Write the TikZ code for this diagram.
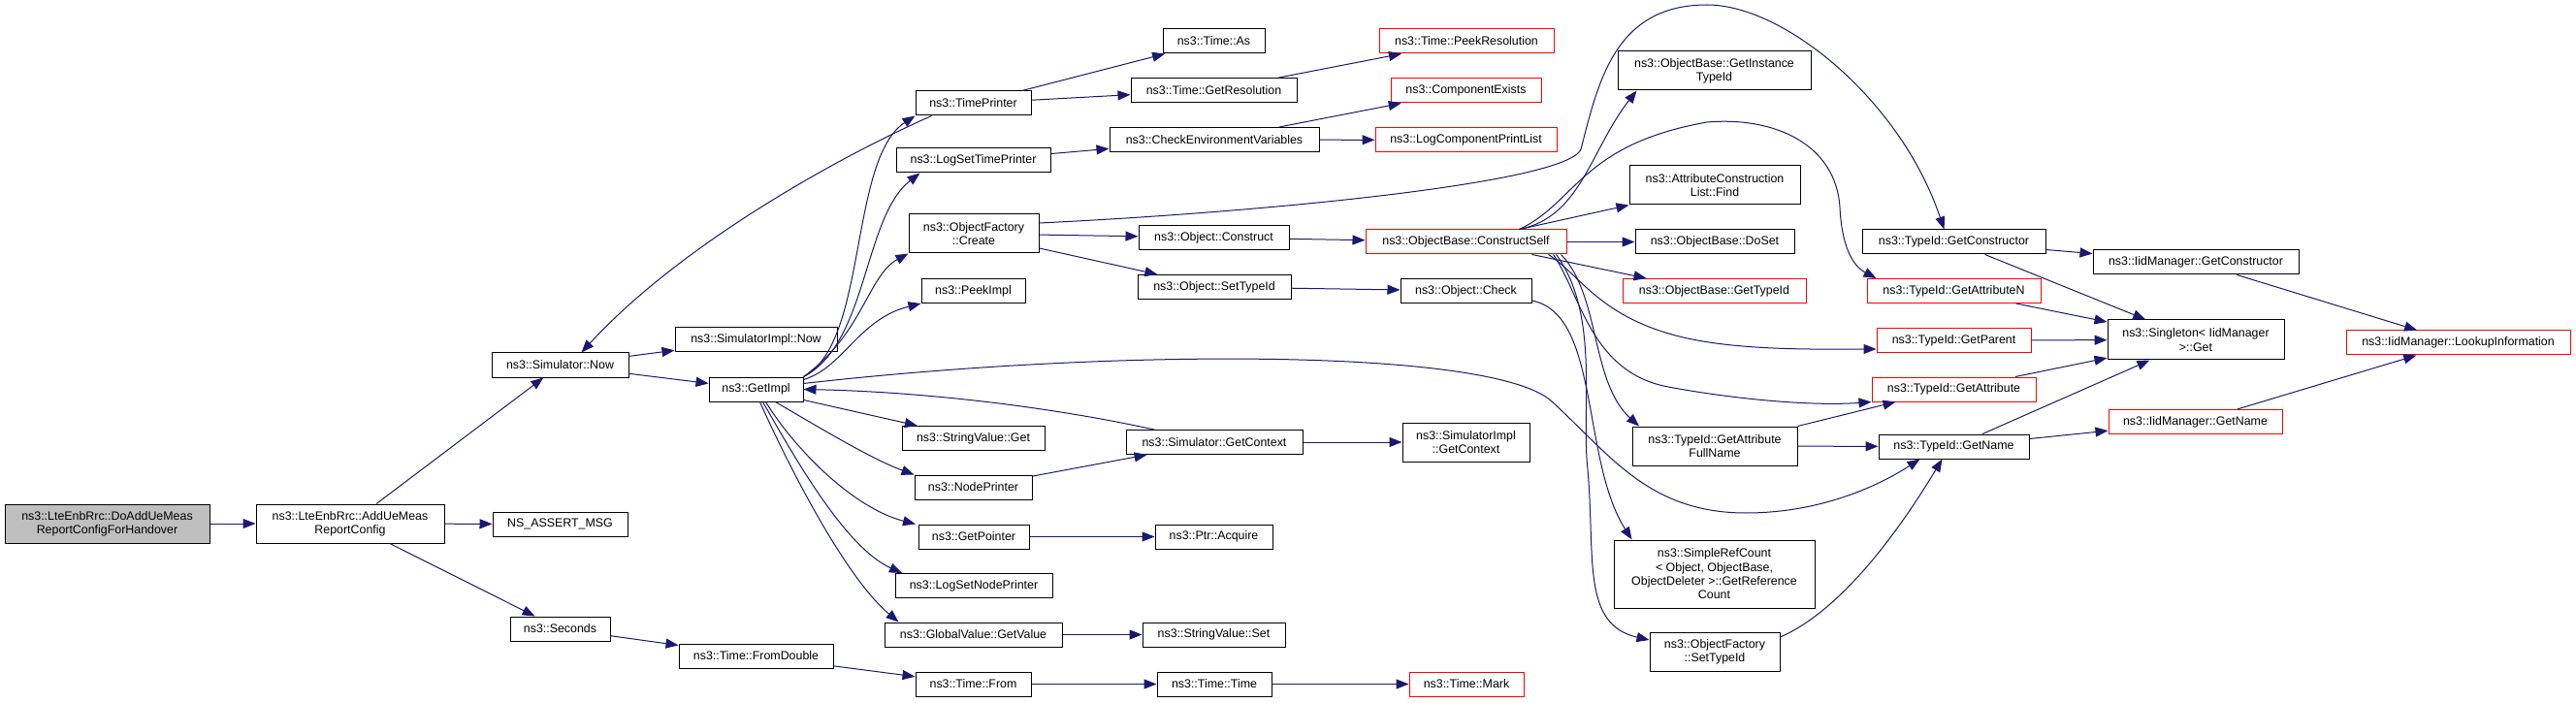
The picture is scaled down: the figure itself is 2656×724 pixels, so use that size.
\documentclass[tikz,border=0pt]{standalone}
\usepackage{fontspec}
\setmainfont{Liberation Sans}
\usetikzlibrary{arrows.meta}

\definecolor{edgeblue}{HTML}{191970}
\definecolor{rootgrey}{HTML}{BFBFBF}

\tikzset{
  fn/.style={draw=black, line width=1pt, fill=white, inner sep=1pt, align=center,
    minimum height=25pt, font=\fontsize{12.4}{14.3}\selectfont},
  fnred/.style={fn, draw=red},
  fnroot/.style={fn, fill=rootgrey},
  call/.style={edgeblue, line width=1pt, -{Triangle[length=13pt,width=10pt]}},
}

\begin{document}
\begin{tikzpicture}[x=1pt,y=1pt]
\useasboundingbox (0,0) rectangle (2656,724);

% callers
\node[fnroot, minimum width=211pt, minimum height=40pt] (root) at (110.5,184) {ns3::LteEnbRrc::DoAddUeMeas\\ReportConfigForHandover};
\node[fn, minimum width=194pt, minimum height=40pt] (addue) at (361,184) {ns3::LteEnbRrc::AddUeMeas\\ReportConfig};

% third column
\node[fn, minimum width=141pt] (simnow) at (577.5,347.5) {ns3::Simulator::Now};
\node[fn, minimum width=139pt] (nsassert) at (577.5,183.5) {NS\_ASSERT\_MSG};
\node[fn, minimum width=103pt] (seconds) at (577.5,75.5) {ns3::Seconds};

% fourth column
\node[fn, minimum width=167pt] (simimplnow) at (779.5,373.5) {ns3::SimulatorImpl::Now};
\node[fn, minimum width=97pt] (getimpl) at (779.5,322.5) {ns3::GetImpl};
\node[fn, minimum width=159pt] (fromdouble) at (779.5,47.5) {ns3::Time::FromDouble};

% fifth column
\node[fn, minimum width=119pt] (timeprinter) at (1003.5,617.5) {ns3::TimePrinter};
\node[fn, minimum width=159pt] (logsettp) at (1003.5,558.5) {ns3::LogSetTimePrinter};
\node[fn, minimum width=134pt, minimum height=40pt] (create) at (1004,483) {ns3::ObjectFactory\\::Create};
\node[fn, minimum width=107pt] (peekimpl) at (1003.5,424) {ns3::PeekImpl};
\node[fn, minimum width=147pt] (strget) at (1003.5,272) {ns3::StringValue::Get};
\node[fn, minimum width=121pt] (nodeprinter) at (1003.5,221.5) {ns3::NodePrinter};
\node[fn, minimum width=114pt] (getpointer) at (1004,170.5) {ns3::GetPointer};
\node[fn, minimum width=162pt] (logsetnp) at (1004,120) {ns3::LogSetNodePrinter};
\node[fn, minimum width=183pt] (gvgetvalue) at (1003.5,69.5) {ns3::GlobalValue::GetValue};
\node[fn, minimum width=119pt] (timefrom) at (1003.5,18.5) {ns3::Time::From};

% sixth column
\node[fn, minimum width=105pt] (timeas) at (1251.5,681.5) {ns3::Time::As};
\node[fn, minimum width=171pt] (getres) at (1251.5,631) {ns3::Time::GetResolution};
\node[fn, minimum width=216pt] (checkenv) at (1252,580) {ns3::CheckEnvironmentVariables};
\node[fn, minimum width=155pt] (construct) at (1251.5,479) {ns3::Object::Construct};
\node[fn, minimum width=158pt] (objsettid) at (1252,428) {ns3::Object::SetTypeId};
\node[fn, minimum width=182pt] (simgetctx) at (1252,268) {ns3::Simulator::GetContext};
\node[fn, minimum width=121pt] (acquire) at (1251.5,170.5) {ns3::Ptr::Acquire};
\node[fn, minimum width=147pt] (strset) at (1251.5,69.5) {ns3::StringValue::Set};
\node[fn, minimum width=118pt] (timetime) at (1252,18.5) {ns3::Time::Time};

% seventh column
\node[fnred, minimum width=180pt] (peekres) at (1512,681.5) {ns3::Time::PeekResolution};
\node[fnred, minimum width=155pt] (compexists) at (1511.5,630.5) {ns3::ComponentExists};
\node[fnred, minimum width=187pt] (logcpl) at (1511.5,579.5) {ns3::LogComponentPrintList};
\node[fnred, minimum width=207pt] (constructself) at (1511.5,474.5) {ns3::ObjectBase::ConstructSelf};
\node[fn, minimum width=135pt] (objcheck) at (1511.5,424) {ns3::Object::Check};
\node[fn, minimum width=131pt, minimum height=40pt] (simimplgetctx) at (1511.5,268) {ns3::SimulatorImpl\\::GetContext};
\node[fnred, minimum width=118pt] (timemark) at (1512,18.5) {ns3::Time::Mark};

% eighth column
\node[fn, minimum width=199pt, minimum height=40pt] (getinsttid) at (1767.5,651) {ns3::ObjectBase::GetInstance\\TypeId};
\node[fn, minimum width=176pt, minimum height=40pt] (acfind) at (1768,533) {ns3::AttributeConstruction\\List::Find};
\node[fn, minimum width=164pt] (doset) at (1768,474.5) {ns3::ObjectBase::DoSet};
\node[fnred, minimum width=189pt] (obgettid) at (1767.5,424) {ns3::ObjectBase::GetTypeId};
\node[fn, minimum width=170pt, minimum height=40pt] (getattrfull) at (1768,264) {ns3::TypeId::GetAttribute\\FullName};
\node[fn, minimum width=207pt, minimum height=70pt] (simplerc) at (1767.5,132) {ns3::SimpleRefCount\\< Object, ObjectBase,\\ObjectDeleter >::GetReference\\Count};
\node[fn, minimum width=134pt, minimum height=40pt] (ofsettid) at (1768,52) {ns3::ObjectFactory\\::SetTypeId};

% ninth column
\node[fn, minimum width=189pt] (getctor) at (2014.5,474.5) {ns3::TypeId::GetConstructor};
\node[fnred, minimum width=179pt] (getattrn) at (2014.5,424) {ns3::TypeId::GetAttributeN};
\node[fnred, minimum width=159pt] (getparent) at (2014.5,373) {ns3::TypeId::GetParent};
\node[fnred, minimum width=169pt] (getattr) at (2014.5,322.5) {ns3::TypeId::GetAttribute};
\node[fn, minimum width=155pt] (getname) at (2014.5,263.5) {ns3::TypeId::GetName};

% last columns
\node[fn, minimum width=212pt] (iidgetctor) at (2264,453.5) {ns3::IidManager::GetConstructor};
\node[fn, minimum width=182pt, minimum height=41pt] (singleton) at (2264,373.5) {ns3::Singleton< IidManager\\>::Get};
\node[fnred, minimum width=179pt] (iidgetname) at (2263.5,289) {ns3::IidManager::GetName};
\node[fnred, minimum width=231pt] (lookup) at (2534.5,370.5) {ns3::IidManager::LookupInformation};

% calls
\draw[call] (root) -- (addue);
\draw[call] (addue) -- (simnow);
\draw[call] (addue) -- (nsassert);
\draw[call] (addue) -- (seconds);
\draw[call] (simnow) -- (simimplnow);
\draw[call] (simnow) -- (getimpl);
\draw[call] (seconds) -- (fromdouble);
\draw[call] (fromdouble) -- (timefrom);
\draw[call] (timefrom) -- (timetime);
\draw[call] (timetime) -- (timemark);

\draw[call] (getimpl.north east) .. controls (895,370) and (875,560) .. (timeprinter.south west);
\draw[call] (getimpl.north east) .. controls (895,370) and (890,500) .. ([xshift=-55pt]logsettp.south);
\draw[call] (getimpl.north east) .. controls (890,380) and (895,440) .. (create.south west);
\draw[call] ([yshift=-3pt]getimpl.north east) .. controls (870,345) and (885,395) .. (peekimpl.south west);
\draw[call] (getimpl) -- (strget);
\draw[call] ([xshift=20pt]getimpl.south) .. controls (850,280) and (900,250) .. (nodeprinter.north west);
\draw[call] ([xshift=10pt]getimpl.south) .. controls (820,260) and (880,200) .. ([xshift=-60pt]getpointer.north);
\draw[call] ([xshift=7pt]getimpl.south) .. controls (815,260) and (870,160) .. ([xshift=-74pt]logsetnp.north);
\draw[call] ([xshift=4pt]getimpl.south) .. controls (810,250) and (870,130) .. ([xshift=-77pt]gvgetvalue.north);
\draw[call] ([yshift=6pt]getimpl.east) .. controls (1150,365) and (1540,365) .. (1600,310)
  .. controls (1660,255) and (1700,195) .. (1800,195)
  .. controls (1880,195) and (1940,225) .. ([xshift=-35pt]getname.south);

\draw[call] ([xshift=-43pt]timeprinter.south) .. controls (860,560) and (700,470) .. ([xshift=22pt]simnow.north);
\draw[call] (timeprinter) -- (timeas);
\draw[call] (timeprinter) -- (getres);
\draw[call] (getres) -- (peekres);
\draw[call] (logsettp) -- (checkenv);
\draw[call] (checkenv) -- (compexists);
\draw[call] (checkenv) -- (logcpl);

\draw[call] (create) -- (construct);
\draw[call] (create) -- (objsettid);
\draw[call] ([yshift=11pt]create.east) .. controls (1300,505) and (1615,535) .. (1630,570)
  .. controls (1648,640) and (1665,719) .. (1760,719)
  .. controls (1840,719) and (1960,620) .. ([xshift=-10pt]getctor.north);
\draw[call] (construct) -- (constructself);
\draw[call] (objsettid) -- (objcheck);

\draw[call] ([xshift=-62pt]simgetctx.north) .. controls (1080,305) and (950,320) .. (getimpl.east);
\draw[call] (simgetctx) -- (simimplgetctx);
\draw[call] (nodeprinter) -- (simgetctx);
\draw[call] (getpointer) -- (acquire);
\draw[call] (gvgetvalue) -- (strset);

\draw[call] ([xshift=55pt]constructself.north) .. controls (1630,500) and (1640,570) .. ([xshift=-80pt]getinsttid.south);
\draw[call] ([xshift=55pt]constructself.north) -- (acfind.south west);
\draw[call] (constructself) -- (doset);
\draw[call] ([xshift=68pt]constructself.south) -- ([xshift=-70pt]obgettid.north);
\draw[call] ([xshift=55pt]constructself.north) .. controls (1625,515) and (1630,575) .. (1760,598)
  .. controls (1830,604) and (1893,575) .. (1897,510)
  .. controls (1899,470) and (1910,450) .. ([xshift=-80pt]getattrn.north);
\draw[call] ([xshift=85pt]constructself.south) .. controls (1630,440) and (1650,395) .. (1740,375)
  .. controls (1800,362) and (1880,364) .. ([yshift=4pt]getparent.south west);
\draw[call] ([xshift=90pt]constructself.south) .. controls (1630,420) and (1640,340) .. (1720,325)
  .. controls (1790,312) and (1870,305) .. (getattr.south west);
\draw[call] ([xshift=98pt]constructself.south) .. controls (1650,420) and (1640,330) .. ([xshift=-78pt]getattrfull.north);
\draw[call] ([xshift=93pt]constructself.south) .. controls (1650,400) and (1630,300) .. (1637,240)
  .. controls (1645,150) and (1630,80) .. ([yshift=12pt]ofsettid.west);
\draw[call] ([yshift=-10pt]objcheck.east) .. controls (1650,400) and (1630,250) .. ([xshift=-85pt]simplerc.north);

\draw[call] ([yshift=15pt]ofsettid.east) .. controls (1900,95) and (1960,180) .. ([xshift=-12pt]getname.south);
\draw[call] (getattrfull.north east) -- ([xshift=-60pt]getattr.south);
\draw[call] (getattrfull) -- (getname);

\draw[call] (getctor) -- (iidgetctor);
\draw[call] (getctor) -- (singleton);
\draw[call] (getattrn) -- (singleton);
\draw[call] (getparent) -- (singleton);
\draw[call] (getattr) -- (singleton);
\draw[call] (getname) -- (singleton);
\draw[call] (getname) -- (iidgetname);
\draw[call] (iidgetctor) -- (lookup);
\draw[call] (iidgetname) -- (lookup);
\end{tikzpicture}
\end{document}
